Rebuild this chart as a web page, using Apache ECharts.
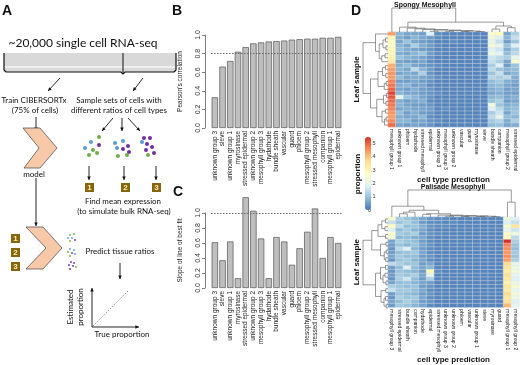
<!DOCTYPE html>
<html>
<head>
<meta charset="utf-8">
<script src="https://cdn.jsdelivr.net/npm/echarts@6/dist/echarts.min.js"></script>
<style>
  html, body { margin: 0; padding: 0; background: #fff; }
  #chart { width: 520px; height: 365px; }
</style>
</head>
<body>
<div id="chart"></div>
<script>
// bar panels B and C share the category order
const barCats = ['unknown group 3', 'sieve', 'unknown group 1', 'myrosinase', 'stressed epidermal',
  'unknown group 2', 'mesophyll group 3', 'hydathode', 'bundle sheath', 'vascular', 'guard', 'phloem',
  'mesophyll group 2', 'stressed mesophyll', 'companion', 'mesophyll group 1', 'epidermal']
const pearson = [0.33, 0.66, 0.72, 0.82, 0.87, 0.91, 0.92, 0.93, 0.935, 0.94, 0.95, 0.955, 0.96, 0.96, 0.97, 0.97, 0.98]
const slope = [0.61, 0.37, 0.62, 0.13, 1.21, 1.03, 0.66, 0.13, 0.68, 0.62, 0.31, 0.53, 0.75, 1.06, 0.40, 0.68, 0.60]

// heatmap columns (already in dendrogram order)
const spongyCols = ['mesophyll group 1', 'unknown group 1', 'phloem', 'hydathode', 'stressed mesophyll',
  'epidermal', 'unknown group 3', 'mesophyll group 3', 'unknown group 2', 'vascular', 'guard',
  'myrosinase', 'sieve', 'bundle sheath', 'companion', 'mesophyll group 2', 'stressed epidermal']
const palisadeCols = ['mesophyll group 3', 'stressed epidermal', 'bundle sheath', 'companion', 'hydathode',
  'epidermal', 'stressed mesophyll', 'unknown group 3', 'unknown group 2', 'phloem', 'vascular',
  'unknown group 1', 'sieve', 'myrosinase', 'guard', 'mesophyll group 1', 'mesophyll group 2']

// proportions x100, one row per leaf sample
const spongy = [
  [44, 8, 6, 6, 5, 18, 3, 2, 2, 2, 2, 2, 2, 25, 28, 6, 12],
  [30, 7, 5, 8, 6, 5, 3, 2, 2, 2, 2, 2, 2, 22, 18, 8, 15],
  [28, 6, 10, 6, 5, 4, 2, 2, 3, 2, 2, 2, 2, 20, 15, 5, 10],
  [27, 8, 6, 12, 7, 5, 3, 2, 2, 2, 2, 2, 2, 24, 20, 10, 18],
  [29, 9, 7, 6, 5, 4, 2, 2, 2, 2, 2, 2, 2, 18, 16, 7, 12],
  [30, 7, 6, 8, 10, 5, 3, 2, 2, 2, 2, 2, 2, 21, 19, 9, 14],
  [31, 10, 8, 7, 6, 4, 2, 2, 2, 2, 2, 2, 2, 16, 14, 12, 20],
  [33, 6, 5, 5, 6, 3, 2, 2, 2, 2, 2, 2, 2, 15, 12, 6, 25],
  [42, 7, 9, 6, 5, 4, 3, 2, 2, 2, 2, 2, 2, 12, 18, 5, 10],
  [44, 8, 6, 14, 8, 5, 2, 2, 2, 2, 2, 2, 2, 14, 10, 8, 9],
  [45, 6, 7, 6, 12, 4, 2, 2, 2, 2, 2, 2, 2, 10, 15, 6, 8],
  [44, 9, 6, 7, 6, 5, 3, 2, 2, 2, 2, 2, 2, 13, 12, 14, 7],
  [47, 5, 5, 6, 5, 4, 2, 2, 2, 2, 2, 2, 2, 9, 11, 7, 6],
  [48, 7, 8, 5, 6, 3, 2, 2, 2, 2, 2, 2, 2, 8, 9, 6, 5],
  [50, 6, 5, 7, 5, 4, 2, 2, 2, 2, 2, 2, 2, 7, 8, 5, 6],
  [53, 8, 6, 6, 5, 4, 3, 2, 2, 2, 2, 2, 2, 6, 7, 5, 5],
  [51, 20, 10, 8, 6, 4, 2, 2, 2, 2, 2, 2, 2, 8, 9, 6, 7],
  [49, 7, 5, 6, 7, 3, 2, 2, 2, 2, 2, 2, 2, 10, 12, 5, 6],
  [48, 8, 6, 5, 5, 4, 2, 2, 2, 2, 2, 2, 2, 22, 10, 7, 8],
  [47, 6, 7, 6, 6, 5, 2, 3, 2, 2, 2, 2, 2, 18, 14, 8, 9],
  [45, 9, 5, 7, 5, 4, 2, 2, 2, 2, 2, 2, 2, 12, 16, 6, 10],
  [44, 7, 6, 6, 8, 3, 2, 2, 2, 2, 2, 2, 2, 14, 20, 9, 8],
  [46, 8, 8, 5, 6, 4, 3, 2, 2, 2, 2, 2, 2, 11, 13, 7, 12],
  [49, 6, 5, 6, 5, 4, 2, 2, 2, 2, 2, 2, 2, 9, 10, 6, 7]
]
const palisade = [
  [25, 12, 10, 8, 6, 4, 3, 3, 2, 2, 2, 2, 2, 2, 2, 22, 18],
  [15, 10, 12, 9, 5, 3, 3, 2, 3, 2, 2, 2, 2, 2, 2, 18, 15],
  [28, 14, 9, 10, 7, 4, 3, 3, 2, 2, 2, 2, 2, 2, 2, 24, 35],
  [18, 9, 11, 8, 6, 3, 2, 2, 2, 2, 2, 2, 2, 2, 2, 20, 16],
  [26, 11, 10, 12, 5, 4, 3, 2, 2, 2, 2, 2, 2, 2, 2, 26, 22],
  [24, 8, 9, 7, 6, 3, 2, 2, 2, 2, 2, 2, 2, 2, 2, 28, 14],
  [6, 12, 10, 9, 5, 3, 2, 2, 2, 2, 2, 2, 2, 2, 2, 55, 12],
  [5, 10, 8, 10, 6, 4, 2, 2, 2, 2, 2, 2, 2, 2, 2, 47, 10],
  [4, 14, 18, 8, 5, 3, 2, 2, 2, 2, 2, 2, 2, 2, 2, 46, 9],
  [5, 9, 10, 11, 6, 3, 2, 2, 2, 2, 2, 2, 2, 2, 2, 45, 11],
  [6, 11, 9, 9, 5, 4, 2, 2, 2, 2, 2, 2, 2, 2, 2, 46, 10],
  [4, 10, 11, 8, 6, 3, 2, 2, 2, 2, 2, 2, 2, 2, 2, 44, 12],
  [14, 12, 10, 10, 5, 6, 2, 2, 2, 2, 2, 2, 2, 2, 2, 37, 20],
  [5, 9, 18, 9, 6, 8, 2, 2, 2, 2, 2, 2, 2, 2, 2, 35, 22],
  [4, 10, 9, 8, 5, 30, 3, 2, 2, 2, 2, 2, 2, 2, 2, 33, 24],
  [5, 11, 10, 12, 6, 20, 2, 2, 2, 2, 2, 2, 2, 2, 2, 36, 20],
  [4, 12, 16, 9, 5, 12, 2, 2, 2, 2, 2, 2, 2, 2, 2, 34, 18],
  [6, 9, 10, 8, 6, 5, 2, 2, 2, 2, 2, 2, 2, 2, 2, 31, 22],
  [12, 10, 9, 10, 5, 4, 2, 2, 2, 2, 2, 2, 2, 2, 2, 35, 25],
  [15, 11, 11, 9, 6, 3, 2, 2, 2, 2, 2, 2, 2, 2, 2, 33, 20],
  [5, 10, 9, 8, 5, 4, 2, 2, 2, 2, 2, 2, 2, 2, 2, 37, 24],
  [4, 12, 10, 11, 6, 3, 2, 2, 2, 2, 2, 2, 2, 2, 2, 34, 22],
  [6, 9, 12, 9, 5, 4, 2, 2, 2, 2, 2, 2, 2, 2, 2, 36, 18],
  [5, 11, 10, 8, 6, 3, 2, 2, 2, 2, 2, 2, 2, 2, 2, 41, 20]
]

// dendrogram merges: [left node, right node, height]; leaves are 0..n-1 in display order
const spongyColTree = [[5, 6, 0.03], [7, 8, 0.03], [9, 10, 0.02], [11, 12, 0.02], [19, 20, 0.04],
  [18, 21, 0.06], [17, 22, 0.08], [4, 23, 0.1], [3, 24, 0.13], [2, 25, 0.16], [1, 26, 0.2],
  [13, 14, 0.12], [15, 16, 0.18], [28, 29, 0.25], [27, 30, 0.41], [0, 31, 1.0]]
const palisadeColTree = [[1, 2, 0.12], [17, 3, 0.18], [4, 5, 0.1], [7, 8, 0.03], [9, 10, 0.02],
  [11, 12, 0.02], [13, 14, 0.015], [22, 23, 0.03], [21, 24, 0.04], [20, 25, 0.05], [6, 26, 0.07],
  [19, 27, 0.12], [18, 28, 0.25], [0, 29, 0.4], [15, 16, 0.55], [30, 31, 1.0]]
const spongyRowTree = [[1, 2, 0.1], [3, 4, 0.08], [24, 25, 0.2], [5, 6, 0.12], [27, 7, 0.25],
  [26, 28, 0.35], [0, 29, 0.5], [8, 9, 0.1], [10, 11, 0.09], [31, 32, 0.22], [12, 13, 0.07],
  [34, 14, 0.15], [33, 35, 0.4], [15, 16, 0.06], [17, 18, 0.08], [37, 38, 0.18], [19, 20, 0.1],
  [21, 22, 0.07], [41, 23, 0.14], [40, 42, 0.24], [39, 43, 0.45], [36, 44, 0.7], [30, 45, 1.0]]
const palisadeRowTree = [[0, 1, 0.1], [2, 3, 0.12], [24, 25, 0.25], [4, 5, 0.1], [26, 27, 0.4],
  [6, 7, 0.08], [8, 9, 0.07], [10, 11, 0.09], [30, 31, 0.15], [29, 32, 0.3], [28, 33, 0.65],
  [12, 13, 0.1], [14, 15, 0.12], [16, 17, 0.08], [36, 37, 0.2], [35, 38, 0.3], [18, 19, 0.09],
  [20, 21, 0.1], [22, 23, 0.07], [41, 42, 0.16], [40, 43, 0.28], [39, 44, 0.5], [34, 45, 1.0]]

const legendTicks = [0, 0.1, 0.2, 0.3, 0.4, 0.5]
const heatColors = ['#4575B4', '#91BFDB', '#E0F3F8', '#FFFFBF', '#FEE090', '#FC8D59', '#D73027']

// ---------- helpers ----------
function toCells(matrix) {
  const out = []
  matrix.forEach((row, r) => row.forEach((v, c) => out.push([c, r, v / 100])))
  return out
}
// turn merge list into U-shaped links [posA, hA, posB, hB, h]
function links(tree, n) {
  const pos = [], hgt = []
  for (let i = 0; i < n; i++) { pos[i] = i; hgt[i] = 0 }
  return tree.map((m, k) => {
    const [a, b, h] = m
    pos[n + k] = (pos[a] + pos[b]) / 2
    hgt[n + k] = h
    return [pos[a], hgt[a], pos[b], hgt[b], h]
  })
}
function colDendro(params, api) {
  const pts = [
    api.coord([api.value(0), api.value(1)]), api.coord([api.value(0), api.value(4)]),
    api.coord([api.value(2), api.value(4)]), api.coord([api.value(2), api.value(3)])]
  return { type: 'polyline', shape: { points: pts }, style: { stroke: '#555', fill: null, lineWidth: 0.6 } }
}
function rowDendro(params, api) {
  const pts = [
    api.coord([api.value(1), api.value(0)]), api.coord([api.value(4), api.value(0)]),
    api.coord([api.value(4), api.value(2)]), api.coord([api.value(3), api.value(2)])]
  return { type: 'polyline', shape: { points: pts }, style: { stroke: '#555', fill: null, lineWidth: 0.6 } }
}
// legend tick labels next to the colour bar
function legendLabel(params, api) {
  const p = api.coord([0, api.value(0)])
  const v = api.value(0)
  return { type: 'text', x: p[0] + 3, y: p[1],
    style: { text: v === 0 ? '0' : v.toFixed(1), fill: '#333', font: '5.5px Liberation Sans',
      align: 'left', verticalAlign: 'middle' } }
}
function arrow(x1, y1, x2, y2) {
  const a = Math.atan2(y2 - y1, x2 - x1), s = 4
  return [
    { type: 'line', shape: { x1: x1, y1: y1, x2: x2, y2: y2 }, style: { stroke: '#111', lineWidth: 0.9 } },
    { type: 'polygon', shape: { points: [[x2, y2],
      [x2 - s * Math.cos(a - 0.45), y2 - s * Math.sin(a - 0.45)],
      [x2 - s * Math.cos(a + 0.45), y2 - s * Math.sin(a + 0.45)]] }, style: { fill: '#111' } }
  ]
}
function txt(x, y, text, size) {
  return { type: 'text', style: { x: x, y: y, text: text, fill: '#111',
    font: size + 'px Lato', align: 'center', verticalAlign: 'middle' } }
}
function vtxt(x, y, text, font) {
  return { type: 'text', rotation: Math.PI / 2, x: x, y: y,
    style: { x: 0, y: 0, text: text, fill: '#111', font: font, align: 'center', verticalAlign: 'middle' } }
}
function numBox(x, y, n) {
  return [
    { type: 'rect', shape: { x: x, y: y, width: 9, height: 9 }, style: { fill: '#86650f' } },
    { type: 'text', style: { x: x + 4.5, y: y + 5, text: String(n), fill: '#ffeeb0',
      font: 'bold 8px Liberation Sans', align: 'center', verticalAlign: 'middle' } }
  ]
}
function dot(x, y, c, r) {
  return { type: 'circle', shape: { cx: x, cy: y, r: r || 2 }, style: { fill: c } }
}
const blue = '#5b9bd5', green = '#70ad47', purple = '#7030a0'

const rFont = 'Liberation Sans'
const barAxisX = (gi) => ({
  type: 'category', gridIndex: gi, data: barCats,
  axisLine: { show: false }, axisTick: { show: false },
  axisLabel: { rotate: 90, interval: 0, fontSize: 6.5, margin: 3, color: '#222', fontFamily: rFont }
})
const barAxisY = (gi, name) => ({
  type: 'value', gridIndex: gi, min: 0, max: 1, interval: 0.2, offset: 6,
  name: name, nameLocation: 'middle', nameGap: 21, nameRotate: 90,
  nameTextStyle: { fontSize: 6.5, color: '#222', fontFamily: rFont },
  axisLine: { show: true, lineStyle: { color: '#444', width: 0.7 } },
  axisTick: { show: true, length: 3, lineStyle: { color: '#444', width: 0.7 } },
  splitLine: { show: false },
  axisLabel: { rotate: 90, fontSize: 7, margin: 3, color: '#333', fontFamily: rFont,
    formatter: v => v.toFixed(1) }
})
const heatX = (gi, cols) => ({
  type: 'category', gridIndex: gi, data: cols,
  axisLine: { show: false }, axisTick: { show: false }, splitArea: { show: false },
  axisLabel: { rotate: -90, interval: 0, fontSize: 5, margin: 2, color: '#222', fontFamily: rFont },
  name: 'cell type prediction', nameLocation: 'middle', nameGap: 46,
  nameTextStyle: { fontSize: 8, fontWeight: 'bold', color: '#111', fontFamily: rFont }
})
const heatY = (gi) => ({
  type: 'category', gridIndex: gi, inverse: true, data: spongy.map((r, i) => String(i + 1)),
  axisLine: { show: false }, axisTick: { show: false }, axisLabel: { show: false },
  name: 'Leaf sample', nameLocation: 'middle', nameGap: 27, nameRotate: 90,
  nameTextStyle: { fontSize: 8, fontWeight: 'bold', color: '#111', fontFamily: rFont }
})
const hidden = (gi, extra) => Object.assign({ type: 'value', gridIndex: gi, show: false, splitLine: { show: false } }, extra)

const chart = echarts.init(document.getElementById('chart'))
const barStyle = { color: '#bebebe', borderColor: '#555', borderWidth: 0.7 }
const dotted = (y) => ({ silent: true, symbol: 'none', label: { show: false },
  lineStyle: { type: [1.5, 1.5], color: '#666', width: 1 }, data: [{ yAxis: y }] })
const bold14 = 'bold 14px Liberation Sans'

const graphics = [
  { type: 'text', style: { x: 2, y: 4, text: 'A', font: bold14, fill: '#111' } },
  { type: 'text', style: { x: 172, y: 4, text: 'B', font: bold14, fill: '#111' } },
  { type: 'text', style: { x: 173, y: 185, text: 'C', font: bold14, fill: '#111' } },
  { type: 'text', style: { x: 351, y: 4, text: 'D', font: bold14, fill: '#111' } },
  txt(83, 43, '~20,000 single cell RNA-seq', 12),
  { type: 'rect', shape: { x: 4, y: 53, width: 172, height: 19 }, style: { fill: '#d9d9d9' } },
  { type: 'line', shape: { x1: 4, y1: 67, x2: 176, y2: 67 }, style: { stroke: '#f4f4f4', lineWidth: 1.5 } },
  { type: 'polyline', shape: { points: [[4, 53], [4, 70], [6, 72], [121, 72], [123, 74], [125, 72], [174, 72], [176, 70], [176, 53]] },
    style: { stroke: '#111', fill: null, lineWidth: 1.2 } },
  { type: 'line', shape: { x1: 123, y1: 53, x2: 123, y2: 73 }, style: { stroke: '#111', lineWidth: 1 } },
  ...arrow(60, 78, 48, 91), ...arrow(143, 78, 133, 91),
  txt(34, 100, 'Train CIBERSORTx', 8), txt(35, 110, '(75% of cells)', 8),
  txt(119, 100, 'Sample sets of cells with', 8), txt(119, 110, 'different ratios of cell types', 8),
  ...arrow(36, 117, 36, 131),
  { type: 'polygon', shape: { points: [[23, 128], [40, 128], [57, 148], [40, 168], [24, 168], [39, 148]] },
    style: { fill: '#f8c9a8', stroke: '#555', lineWidth: 0.8 } },
  txt(34, 174, 'model', 8),
  ...arrow(113, 118, 102, 131), ...arrow(122, 118, 122, 131), ...arrow(128, 118, 140, 131),
  dot(99, 137, green), dot(91, 142, blue), dot(99, 145, purple), dot(85, 148, blue),
  dot(93, 150, green), dot(89, 155, green), dot(97, 153, green),
  dot(115, 143, blue), dot(123, 141, blue), dot(128, 146, purple), dot(117, 148, blue),
  dot(123, 149, purple), dot(129, 152, purple), dot(118, 156, green), dot(127, 155, green),
  dot(144, 138, purple), dot(150, 138, purple), dot(142, 142, blue), dot(147, 144, purple),
  dot(152, 147, purple), dot(146, 150, purple), dot(148, 155, green), dot(154, 153, purple),
  ...arrow(89, 166, 89, 180), ...arrow(124, 166, 124, 180), ...arrow(156, 166, 156, 180),
  ...numBox(85, 183, 1), ...numBox(121, 183, 2), ...numBox(152, 183, 3),
  txt(123, 201, 'Find mean expression', 8), txt(124, 211, '(to simulate bulk RNA-seq)', 8),
  ...arrow(36, 178, 36, 226),
  ...numBox(11, 234, 1), ...numBox(11, 248, 2), ...numBox(11, 262, 3),
  { type: 'polygon', shape: { points: [[26, 227], [43, 227], [62, 248], [43, 269], [26, 269], [46, 248]] },
    style: { fill: '#f8c9a8', stroke: '#555', lineWidth: 0.8 } },
  dot(70, 235, green, 0.9), dot(74, 234, green, 0.9), dot(68, 238, blue, 0.9), dot(72, 238, blue, 0.9),
  dot(75, 240, purple, 0.9), dot(70, 241, green, 0.9),
  dot(70, 249, blue, 0.9), dot(74, 250, blue, 0.9), dot(68, 252, green, 0.9), dot(72, 253, purple, 0.9),
  dot(75, 254, blue, 0.9), dot(70, 256, green, 0.9),
  dot(71, 262, purple, 0.9), dot(74, 263, purple, 0.9), dot(69, 265, purple, 0.9), dot(73, 266, purple, 0.9),
  dot(76, 267, green, 0.9), dot(70, 269, purple, 0.9),
  txt(120, 251, 'Predict tissue ratios', 8),
  ...arrow(120, 263, 120, 279),
  ...arrow(92, 327, 92, 288), ...arrow(92, 327, 139, 327),
  { type: 'line', shape: { x1: 93, y1: 326, x2: 128, y2: 291 }, style: { stroke: '#777', lineWidth: 0.8, lineDash: [1.5, 1.5] } },
  vtxt(70, 307, 'Estimated', '8px Lato'),
  vtxt(80, 307, 'proportion', '8px Lato'),
  txt(122, 334, 'True proportion', 8),
  { type: 'text', style: { x: 425, y: 5, text: 'Spongy Mesophyll', font: 'bold 7px Liberation Sans', fill: '#111', align: 'center', verticalAlign: 'middle' } },
  { type: 'text', style: { x: 453, y: 187, text: 'Palisade Mesophyll', font: 'bold 7px Liberation Sans', fill: '#111', align: 'center', verticalAlign: 'middle' } },
  vtxt(358, 174, 'proportion', 'bold 8px Liberation Sans')
]

const option = {
  animation: false,
  backgroundColor: '#fff',
  grid: [
    { left: 211, top: 35, width: 131, height: 93 },   // 0 B
    { left: 211, top: 213, width: 131, height: 75 },  // 1 C
    { left: 388, top: 32, width: 131, height: 95 },   // 2 spongy heat
    { left: 388, top: 217, width: 131, height: 93 },  // 3 palisade heat
    { left: 388, top: 8, width: 131, height: 24 },    // 4 spongy col tree
    { left: 363, top: 32, width: 25, height: 95 },    // 5 spongy row tree
    { left: 388, top: 190, width: 131, height: 27 },  // 6 palisade col tree
    { left: 363, top: 217, width: 25, height: 93 },   // 7 palisade row tree
    { left: 365, top: 137, width: 6, height: 73 }     // 8 legend scale
  ],
  xAxis: [
    barAxisX(0), barAxisX(1),
    heatX(2, spongyCols), heatX(3, palisadeCols),
    hidden(4, { min: -0.5, max: 16.5 }), hidden(5, { min: 0, max: 1.0, inverse: true }),
    hidden(6, { min: -0.5, max: 16.5 }), hidden(7, { min: 0, max: 1.0, inverse: true }),
    hidden(8, { min: 0, max: 1 })
  ],
  yAxis: [
    barAxisY(0, "Pearson's correlation"), barAxisY(1, 'Slope of line of best fit'),
    heatY(2), heatY(3),
    hidden(4, { min: 0, max: 1.0 }), hidden(5, { min: -0.5, max: 23.5, inverse: true }),
    hidden(6, { min: 0, max: 1.0 }), hidden(7, { min: -0.5, max: 23.5, inverse: true }),
    hidden(8, { min: 0, max: 0.55 })
  ],
  visualMap: {
    type: 'continuous', min: 0, max: 0.55, seriesIndex: [2, 3], calculable: false,
    left: 365, top: 137, padding: 0, itemWidth: 6, itemHeight: 73, text: null, showLabel: false,
    inRange: { color: heatColors }
  },
  graphic: graphics,
  series: [
    { type: 'bar', xAxisIndex: 0, yAxisIndex: 0, data: pearson, barWidth: '83%', itemStyle: barStyle,
      markLine: dotted(0.8) },
    { type: 'bar', xAxisIndex: 1, yAxisIndex: 1, data: slope, barWidth: '83%', itemStyle: barStyle,
      clip: false, markLine: dotted(1.0) },
    { type: 'heatmap', xAxisIndex: 2, yAxisIndex: 2, data: toCells(spongy),
      itemStyle: { borderColor: '#e6e6e6', borderWidth: 0.4 } },
    { type: 'heatmap', xAxisIndex: 3, yAxisIndex: 3, data: toCells(palisade),
      itemStyle: { borderColor: '#e6e6e6', borderWidth: 0.4 } },
    { type: 'custom', xAxisIndex: 4, yAxisIndex: 4, renderItem: colDendro, data: links(spongyColTree, 17), silent: true },
    { type: 'custom', xAxisIndex: 5, yAxisIndex: 5, renderItem: rowDendro, data: links(spongyRowTree, 24), silent: true },
    { type: 'custom', xAxisIndex: 6, yAxisIndex: 6, renderItem: colDendro, data: links(palisadeColTree, 17), silent: true },
    { type: 'custom', xAxisIndex: 7, yAxisIndex: 7, renderItem: rowDendro, data: links(palisadeRowTree, 24), silent: true },
    { type: 'custom', xAxisIndex: 8, yAxisIndex: 8, renderItem: legendLabel, data: legendTicks.map(v => [v]),
      encode: { y: 0 }, silent: true, clip: false }
  ]
}
chart.setOption(option)
window.addEventListener('resize', () => chart.resize())
</script>
</body>
</html>
